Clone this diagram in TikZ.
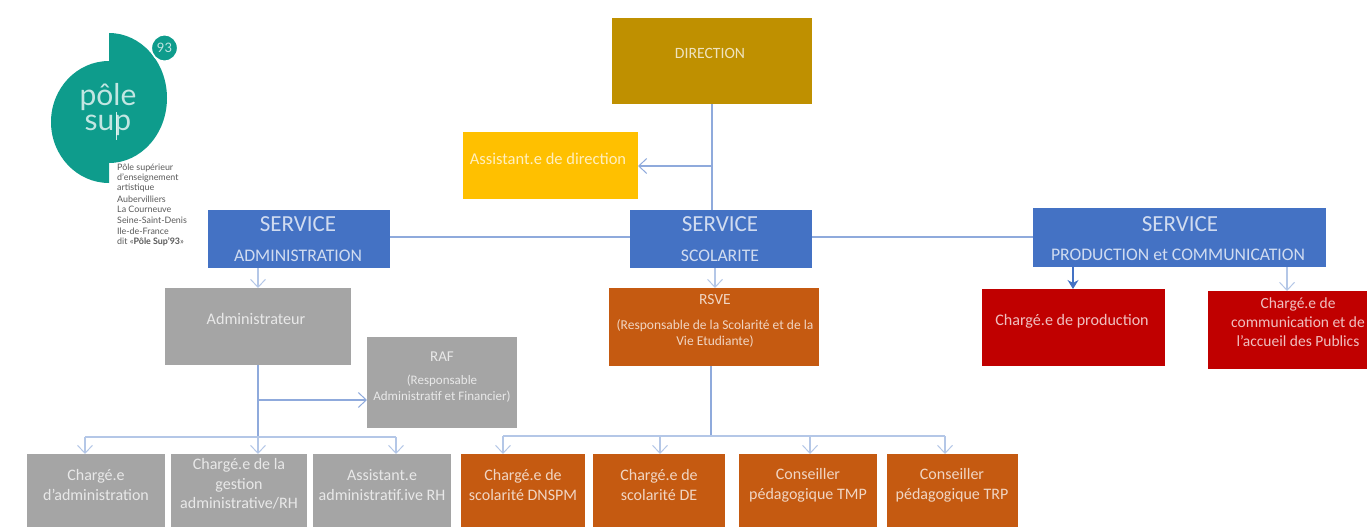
\documentclass[tikz,border=0pt]{standalone}
\usepackage{fontspec}
\setmainfont{Carlito}
\newfontfamily\logofont{Lato}
\usetikzlibrary{arrows.meta}
\definecolor{cDir}{HTML}{BF9000}
\definecolor{cAsst}{HTML}{FFC000}
\definecolor{cBlue}{HTML}{4472C4}
\definecolor{cGrey}{HTML}{A5A5A5}
\definecolor{cOrange}{HTML}{C55A11}
\definecolor{cRed}{HTML}{C00000}
\definecolor{cTeal}{HTML}{0E9C8C}
\definecolor{cLine}{HTML}{8FAADC}
\definecolor{cPale}{HTML}{B4C7E7}
\tikzset{
  boxst/.style={draw=none,inner sep=0pt,outer sep=0pt,rectangle},
  lbl/.style={inner sep=0pt,align=center,text=white},
  lblsoft/.style={lbl,text opacity=.75},
  conn/.style={draw=cLine,line width=1.2pt},
  connpale/.style={draw=cPale,line width=1.2pt},
  barb/.style={-{Straight Barb[length=8pt,width=15pt,line width=1pt]}},
  small/.style={inner sep=0pt,anchor=west,text=black!65,font=\logofont\fontsize{8.9}{10}\selectfont},
}
\newcommand\bx[6]{%
  \pgfmathsetmacro\cx{(#2+#4)/2}\pgfmathsetmacro\cy{(#3+#5)/2}%
  \node[boxst,fill=#6,minimum width={(#4-#2)*1pt},minimum height={(#5-#3)*1pt}] (#1) at (\cx,\cy) {};}
\newcommand\fs[2]{\fontsize{#1}{#2}\selectfont}
\begin{document}
\begin{tikzpicture}[x=1pt,y=-1pt]
\useasboundingbox (0,0) rectangle (1367,527);
% logo
\fill[cTeal] (109,33) arc[start angle=-90,end angle=90,x radius=58,y radius=65] -- cycle;
\fill[cTeal] (109,61) arc[start angle=-90,end angle=-270,x radius=58,y radius=61] -- cycle;
\fill[cTeal,draw=white,line width=1.6pt] (164.5,48) circle (13.2);
\node[lblsoft,font=\logofont\fs{13}{13}] (l93) at (164.5,48) {93};
\node[lblsoft,font=\logofont\fs{30}{25}] (lpole) at (108,110) {pôle\\sup};
\draw[white,opacity=.8,line width=.6pt] (116,112) -- (116,140);
\node[small] (s1) at (117,168) {Pôle supérieur};
\node[small] (s2) at (117,178) {d’enseignement};
\node[small] (s3) at (117,188) {artistique};
\node[small] (s4) at (117,199) {Aubervilliers};
\node[small] (s5) at (117,209) {La Courneuve};
\node[small] (s6) at (117,220) {Seine-Saint-Denis};
\node[small] (s7) at (117,231) {Ile-de-France};
\node[small] (s8) at (117,242) {dit «\textbf{Pôle Sup’93}»};
% boxes
\bx{dir}{612}{18}{812}{104}{cDir}
\bx{asst}{463}{132}{638}{199}{cAsst}
\bx{sadm}{208}{210}{390}{268}{cBlue}
\bx{ssco}{630}{210}{812}{268}{cBlue}
\bx{sprod}{1033}{208}{1326}{267}{cBlue}
\bx{admr}{165}{288}{351}{365}{cGrey}
\bx{raf}{367}{337}{517}{428}{cGrey}
\bx{rsve}{609}{288}{819}{366}{cOrange}
\bx{prod}{982}{289}{1165}{366}{cRed}
\bx{comm}{1208}{291}{1367}{369}{cRed}
\bx{g1}{27}{454}{165}{527}{cGrey}
\bx{g2}{171}{454}{307}{527}{cGrey}
\bx{g3}{313}{454}{451}{527}{cGrey}
\bx{o1}{461}{454}{585}{527}{cOrange}
\bx{o2}{593}{454}{725}{527}{cOrange}
\bx{o3}{739}{454}{877}{527}{cOrange}
\bx{o4}{887}{454}{1018}{527}{cOrange}
% anchors for connectors
\coordinate (cDirX) at (712,135);
\coordinate (cAsstJ) at (712,166);
\coordinate (cAdmX) at (258,437);
\coordinate (cRafJ) at (258,400);
\coordinate (cBusL) at (85,437);
\coordinate (cBusR) at (396,437);
\coordinate (cScoX) at (715,278);
\coordinate (cBusO) at (711,436);
\coordinate (cO1) at (503,436);
\coordinate (cO2) at (660,436);
\coordinate (cO3) at (810,436);
\coordinate (cO4) at (945,436);
\coordinate (cH) at (500,237);
\coordinate (cP1) at (1073,280);
\coordinate (cP2) at (1287,280);
% connectors
\draw[conn] (dir.south -| cDirX) -- (ssco.north -| cDirX);
\draw[conn,barb] (cAsstJ) -- (asst.east |- cAsstJ);
\draw[conn] (sadm.east |- cH) -- (ssco.west |- cH);
\draw[conn] (ssco.east |- cH) -- (sprod.west |- cH);
\draw[connpale,barb] (sadm.south -| cAdmX) -- (admr.north -| cAdmX);
\draw[conn] (admr.south -| cAdmX) -- (cAdmX);
\draw[conn,barb] (cRafJ) -- (raf.west |- cRafJ);
\draw[connpale] (cBusL) -- (cBusR);
\draw[connpale,barb] (cBusL) -- (g1.north -| cBusL);
\draw[connpale,barb] (cAdmX) -- (g2.north -| cAdmX);
\draw[connpale,barb] (cBusR) -- (g3.north -| cBusR);
\draw[connpale,barb] (ssco.south -| cScoX) -- (rsve.north -| cScoX);
\draw[conn] (rsve.south -| cBusO) -- (cBusO);
\draw[connpale] (cO1) -- (cO4);
\draw[connpale,barb] (cO1) -- (o1.north -| cO1);
\draw[connpale,barb] (cO2) -- (o2.north -| cO2);
\draw[connpale,barb] (cO3) -- (o3.north -| cO3);
\draw[connpale,barb] (cO4) -- (o4.north -| cO4);
\draw[draw=cBlue,line width=1.2pt,-{Stealth[length=9pt,width=11pt]}] (sprod.south -| cP1) -- (prod.north -| cP1);
\draw[connpale,barb] (sprod.south -| cP2) -- (comm.north -| cP2);
% texts
\node[lblsoft,font=\fs{15.7}{18}] (tdir) at (710,53) {DIRECTION};
\node[lblsoft,font=\fs{16.5}{20}] (tasst) at (548,159) {Assistant.e de direction};
\node[lblsoft,font=\fs{23}{26}] (ts1) at (298,224) {SERVICE};
\node[lblsoft,font=\fs{17.7}{20}] (ts1b) at (298,256) {ADMINISTRATION};
\node[lblsoft,font=\fs{23}{26}] (ts2) at (720,224) {SERVICE};
\node[lblsoft,font=\fs{17.7}{20}] (ts2b) at (720,256) {SCOLARITE};
\node[lblsoft,font=\fs{23}{26}] (ts3) at (1180,224) {SERVICE};
\node[lblsoft,font=\fs{17.7}{20}] (ts3b) at (1178,255) {PRODUCTION et COMMUNICATION};
\node[lblsoft,font=\fs{16.2}{18}] (tadm) at (256,319) {Administrateur};
\node[lblsoft,font=\fs{15}{18}] (traf) at (442,357) {RAF};
\node[lblsoft,font=\fs{13}{16}] (traf2) at (442,389) {(Responsable\\Administratif et Financier)};
\node[lblsoft,font=\fs{15.5}{18}] (trsve) at (715,300) {RSVE};
\node[lblsoft,font=\fs{13.5}{16}] (trsve2) at (715,333) {(Responsable de la Scolarité et de la\\Vie Etudiante)};
\node[lblsoft,font=\fs{16.1}{19}] (tprod) at (1072,321) {Chargé.e de production};
\node[lblsoft,font=\fs{15.5}{19}] (tcomm) at (1298,322) {Chargé.e de\\communication et de\\l’accueil des Publics};
\node[lblsoft,font=\fs{16}{20}] (tg1) at (96,485) {Chargé.e\\d’administration};
\node[lblsoft,font=\fs{16}{19.5}] (tg2) at (239,484) {Chargé.e de la\\gestion\\administrative/RH};
\node[lblsoft,font=\fs{16}{20}] (tg3) at (382,485) {Assistant.e\\administratif.ive RH};
\node[lblsoft,font=\fs{16}{20}] (to1) at (523,485) {Chargé.e de\\scolarité DNSPM};
\node[lblsoft,font=\fs{16}{20}] (to2) at (659,485) {Chargé.e de\\scolarité DE};
\node[lblsoft,font=\fs{16}{20}] (to3) at (808,485) {Conseiller\\pédagogique TMP};
\node[lblsoft,font=\fs{16}{20}] (to4) at (952,485) {Conseiller\\pédagogique TRP};
\end{tikzpicture}
\end{document}
